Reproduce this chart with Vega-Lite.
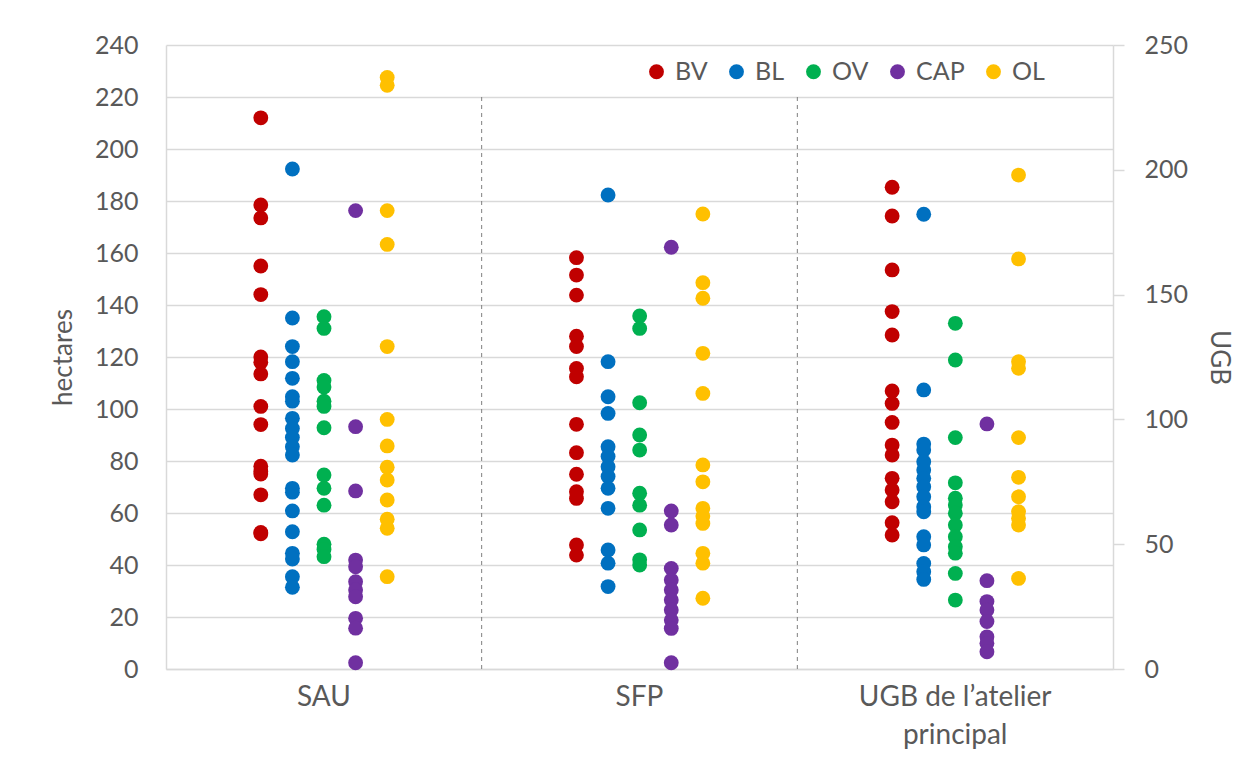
{
  "$schema": "https://vega.github.io/schema/vega-lite/v6.json",
  "autosize": {"type": "none"},
  "padding": {"left": 166, "top": 45, "right": 147, "bottom": 89},
  "width": 947,
  "height": 624,
  "background": "#ffffff",
  "config": {
    "view": {"stroke": null},
    "font": "Lato",
    "axis": {"labelFont": "Lato", "titleFont": "Lato", "labelColor": "#595959", "titleColor": "#595959", "titleFontWeight": "normal"},
    "legend": {"labelFont": "Lato", "labelColor": "#595959"}
  },
  "data": {
    "values": [
      {"g": "SAU", "s": "BV", "u": "ha", "v": 212},
      {"g": "SAU", "s": "BV", "u": "ha", "v": 178.5},
      {"g": "SAU", "s": "BV", "u": "ha", "v": 173.5},
      {"g": "SAU", "s": "BV", "u": "ha", "v": 155},
      {"g": "SAU", "s": "BV", "u": "ha", "v": 144},
      {"g": "SAU", "s": "BV", "u": "ha", "v": 120},
      {"g": "SAU", "s": "BV", "u": "ha", "v": 118},
      {"g": "SAU", "s": "BV", "u": "ha", "v": 113.5},
      {"g": "SAU", "s": "BV", "u": "ha", "v": 101},
      {"g": "SAU", "s": "BV", "u": "ha", "v": 94},
      {"g": "SAU", "s": "BV", "u": "ha", "v": 78},
      {"g": "SAU", "s": "BV", "u": "ha", "v": 76},
      {"g": "SAU", "s": "BV", "u": "ha", "v": 75},
      {"g": "SAU", "s": "BV", "u": "ha", "v": 67},
      {"g": "SAU", "s": "BV", "u": "ha", "v": 52.5},
      {"g": "SAU", "s": "BV", "u": "ha", "v": 52},
      {"g": "SAU", "s": "BL", "u": "ha", "v": 192.3},
      {"g": "SAU", "s": "BL", "u": "ha", "v": 135},
      {"g": "SAU", "s": "BL", "u": "ha", "v": 124},
      {"g": "SAU", "s": "BL", "u": "ha", "v": 118.2},
      {"g": "SAU", "s": "BL", "u": "ha", "v": 111.8},
      {"g": "SAU", "s": "BL", "u": "ha", "v": 104.7},
      {"g": "SAU", "s": "BL", "u": "ha", "v": 103},
      {"g": "SAU", "s": "BL", "u": "ha", "v": 96.4},
      {"g": "SAU", "s": "BL", "u": "ha", "v": 92.5},
      {"g": "SAU", "s": "BL", "u": "ha", "v": 89},
      {"g": "SAU", "s": "BL", "u": "ha", "v": 85.5},
      {"g": "SAU", "s": "BL", "u": "ha", "v": 82.3},
      {"g": "SAU", "s": "BL", "u": "ha", "v": 69.5},
      {"g": "SAU", "s": "BL", "u": "ha", "v": 68},
      {"g": "SAU", "s": "BL", "u": "ha", "v": 60.8},
      {"g": "SAU", "s": "BL", "u": "ha", "v": 52.8},
      {"g": "SAU", "s": "BL", "u": "ha", "v": 44.5},
      {"g": "SAU", "s": "BL", "u": "ha", "v": 42.3},
      {"g": "SAU", "s": "BL", "u": "ha", "v": 35.5},
      {"g": "SAU", "s": "BL", "u": "ha", "v": 31.4},
      {"g": "SAU", "s": "OV", "u": "ha", "v": 135.5},
      {"g": "SAU", "s": "OV", "u": "ha", "v": 131},
      {"g": "SAU", "s": "OV", "u": "ha", "v": 111},
      {"g": "SAU", "s": "OV", "u": "ha", "v": 108.5},
      {"g": "SAU", "s": "OV", "u": "ha", "v": 103},
      {"g": "SAU", "s": "OV", "u": "ha", "v": 101},
      {"g": "SAU", "s": "OV", "u": "ha", "v": 92.8},
      {"g": "SAU", "s": "OV", "u": "ha", "v": 74.6},
      {"g": "SAU", "s": "OV", "u": "ha", "v": 69.5},
      {"g": "SAU", "s": "OV", "u": "ha", "v": 63},
      {"g": "SAU", "s": "OV", "u": "ha", "v": 48},
      {"g": "SAU", "s": "OV", "u": "ha", "v": 46},
      {"g": "SAU", "s": "OV", "u": "ha", "v": 43.2},
      {"g": "SAU", "s": "CAP", "u": "ha", "v": 176.3},
      {"g": "SAU", "s": "CAP", "u": "ha", "v": 93.2},
      {"g": "SAU", "s": "CAP", "u": "ha", "v": 68.5},
      {"g": "SAU", "s": "CAP", "u": "ha", "v": 41.9},
      {"g": "SAU", "s": "CAP", "u": "ha", "v": 39.3},
      {"g": "SAU", "s": "CAP", "u": "ha", "v": 33.6},
      {"g": "SAU", "s": "CAP", "u": "ha", "v": 30.4},
      {"g": "SAU", "s": "CAP", "u": "ha", "v": 27.8},
      {"g": "SAU", "s": "CAP", "u": "ha", "v": 19.5},
      {"g": "SAU", "s": "CAP", "u": "ha", "v": 15.7},
      {"g": "SAU", "s": "CAP", "u": "ha", "v": 2.4},
      {"g": "SAU", "s": "OL", "u": "ha", "v": 227.5},
      {"g": "SAU", "s": "OL", "u": "ha", "v": 224.5},
      {"g": "SAU", "s": "OL", "u": "ha", "v": 176.3},
      {"g": "SAU", "s": "OL", "u": "ha", "v": 163.3},
      {"g": "SAU", "s": "OL", "u": "ha", "v": 124},
      {"g": "SAU", "s": "OL", "u": "ha", "v": 96},
      {"g": "SAU", "s": "OL", "u": "ha", "v": 85.8},
      {"g": "SAU", "s": "OL", "u": "ha", "v": 77.6},
      {"g": "SAU", "s": "OL", "u": "ha", "v": 72.7},
      {"g": "SAU", "s": "OL", "u": "ha", "v": 65},
      {"g": "SAU", "s": "OL", "u": "ha", "v": 57.6},
      {"g": "SAU", "s": "OL", "u": "ha", "v": 54.1},
      {"g": "SAU", "s": "OL", "u": "ha", "v": 35.5},
      {"g": "SFP", "s": "BV", "u": "ha", "v": 158.2},
      {"g": "SFP", "s": "BV", "u": "ha", "v": 151.5},
      {"g": "SFP", "s": "BV", "u": "ha", "v": 143.8},
      {"g": "SFP", "s": "BV", "u": "ha", "v": 128},
      {"g": "SFP", "s": "BV", "u": "ha", "v": 124},
      {"g": "SFP", "s": "BV", "u": "ha", "v": 115.6},
      {"g": "SFP", "s": "BV", "u": "ha", "v": 112.4},
      {"g": "SFP", "s": "BV", "u": "ha", "v": 94.1},
      {"g": "SFP", "s": "BV", "u": "ha", "v": 83.2},
      {"g": "SFP", "s": "BV", "u": "ha", "v": 74.9},
      {"g": "SFP", "s": "BV", "u": "ha", "v": 68.2},
      {"g": "SFP", "s": "BV", "u": "ha", "v": 65.6},
      {"g": "SFP", "s": "BV", "u": "ha", "v": 47.7},
      {"g": "SFP", "s": "BV", "u": "ha", "v": 43.8},
      {"g": "SFP", "s": "BL", "u": "ha", "v": 182.3},
      {"g": "SFP", "s": "BL", "u": "ha", "v": 118.2},
      {"g": "SFP", "s": "BL", "u": "ha", "v": 104.7},
      {"g": "SFP", "s": "BL", "u": "ha", "v": 98.3},
      {"g": "SFP", "s": "BL", "u": "ha", "v": 85.5},
      {"g": "SFP", "s": "BL", "u": "ha", "v": 81.7},
      {"g": "SFP", "s": "BL", "u": "ha", "v": 77.8},
      {"g": "SFP", "s": "BL", "u": "ha", "v": 74},
      {"g": "SFP", "s": "BL", "u": "ha", "v": 69.5},
      {"g": "SFP", "s": "BL", "u": "ha", "v": 61.8},
      {"g": "SFP", "s": "BL", "u": "ha", "v": 45.8},
      {"g": "SFP", "s": "BL", "u": "ha", "v": 40.7},
      {"g": "SFP", "s": "BL", "u": "ha", "v": 31.7},
      {"g": "SFP", "s": "OV", "u": "ha", "v": 135.8},
      {"g": "SFP", "s": "OV", "u": "ha", "v": 131},
      {"g": "SFP", "s": "OV", "u": "ha", "v": 102.4},
      {"g": "SFP", "s": "OV", "u": "ha", "v": 90},
      {"g": "SFP", "s": "OV", "u": "ha", "v": 84.2},
      {"g": "SFP", "s": "OV", "u": "ha", "v": 67.6},
      {"g": "SFP", "s": "OV", "u": "ha", "v": 63},
      {"g": "SFP", "s": "OV", "u": "ha", "v": 53.5},
      {"g": "SFP", "s": "OV", "u": "ha", "v": 42},
      {"g": "SFP", "s": "OV", "u": "ha", "v": 40},
      {"g": "SFP", "s": "CAP", "u": "ha", "v": 162.2},
      {"g": "SFP", "s": "CAP", "u": "ha", "v": 60.8},
      {"g": "SFP", "s": "CAP", "u": "ha", "v": 55.4},
      {"g": "SFP", "s": "CAP", "u": "ha", "v": 38.7},
      {"g": "SFP", "s": "CAP", "u": "ha", "v": 34.2},
      {"g": "SFP", "s": "CAP", "u": "ha", "v": 30.4},
      {"g": "SFP", "s": "CAP", "u": "ha", "v": 26.5},
      {"g": "SFP", "s": "CAP", "u": "ha", "v": 22.7},
      {"g": "SFP", "s": "CAP", "u": "ha", "v": 18.8},
      {"g": "SFP", "s": "CAP", "u": "ha", "v": 15.6},
      {"g": "SFP", "s": "CAP", "u": "ha", "v": 2.4},
      {"g": "SFP", "s": "OL", "u": "ha", "v": 175},
      {"g": "SFP", "s": "OL", "u": "ha", "v": 148.6},
      {"g": "SFP", "s": "OL", "u": "ha", "v": 142.6},
      {"g": "SFP", "s": "OL", "u": "ha", "v": 121.4},
      {"g": "SFP", "s": "OL", "u": "ha", "v": 106},
      {"g": "SFP", "s": "OL", "u": "ha", "v": 78.5},
      {"g": "SFP", "s": "OL", "u": "ha", "v": 72},
      {"g": "SFP", "s": "OL", "u": "ha", "v": 61.8},
      {"g": "SFP", "s": "OL", "u": "ha", "v": 58.8},
      {"g": "SFP", "s": "OL", "u": "ha", "v": 56},
      {"g": "SFP", "s": "OL", "u": "ha", "v": 44.5},
      {"g": "SFP", "s": "OL", "u": "ha", "v": 40.7},
      {"g": "SFP", "s": "OL", "u": "ha", "v": 27.2},
      {"g": "UGB de l’atelier principal", "s": "BV", "u": "UGB", "v": 193},
      {"g": "UGB de l’atelier principal", "s": "BV", "u": "UGB", "v": 181.5},
      {"g": "UGB de l’atelier principal", "s": "BV", "u": "UGB", "v": 159.9},
      {"g": "UGB de l’atelier principal", "s": "BV", "u": "UGB", "v": 143.2},
      {"g": "UGB de l’atelier principal", "s": "BV", "u": "UGB", "v": 133.8},
      {"g": "UGB de l’atelier principal", "s": "BV", "u": "UGB", "v": 111.4},
      {"g": "UGB de l’atelier principal", "s": "BV", "u": "UGB", "v": 106.4},
      {"g": "UGB de l’atelier principal", "s": "BV", "u": "UGB", "v": 98.8},
      {"g": "UGB de l’atelier principal", "s": "BV", "u": "UGB", "v": 89.7},
      {"g": "UGB de l’atelier principal", "s": "BV", "u": "UGB", "v": 85.7},
      {"g": "UGB de l’atelier principal", "s": "BV", "u": "UGB", "v": 76.4},
      {"g": "UGB de l’atelier principal", "s": "BV", "u": "UGB", "v": 71.7},
      {"g": "UGB de l’atelier principal", "s": "BV", "u": "UGB", "v": 67},
      {"g": "UGB de l’atelier principal", "s": "BV", "u": "UGB", "v": 58.6},
      {"g": "UGB de l’atelier principal", "s": "BV", "u": "UGB", "v": 53.7},
      {"g": "UGB de l’atelier principal", "s": "BL", "u": "UGB", "v": 182.2},
      {"g": "UGB de l’atelier principal", "s": "BL", "u": "UGB", "v": 111.8},
      {"g": "UGB de l’atelier principal", "s": "BL", "u": "UGB", "v": 90.1},
      {"g": "UGB de l’atelier principal", "s": "BL", "u": "UGB", "v": 87.7},
      {"g": "UGB de l’atelier principal", "s": "BL", "u": "UGB", "v": 83},
      {"g": "UGB de l’atelier principal", "s": "BL", "u": "UGB", "v": 79.7},
      {"g": "UGB de l’atelier principal", "s": "BL", "u": "UGB", "v": 76.4},
      {"g": "UGB de l’atelier principal", "s": "BL", "u": "UGB", "v": 73},
      {"g": "UGB de l’atelier principal", "s": "BL", "u": "UGB", "v": 69},
      {"g": "UGB de l’atelier principal", "s": "BL", "u": "UGB", "v": 65},
      {"g": "UGB de l’atelier principal", "s": "BL", "u": "UGB", "v": 63},
      {"g": "UGB de l’atelier principal", "s": "BL", "u": "UGB", "v": 53},
      {"g": "UGB de l’atelier principal", "s": "BL", "u": "UGB", "v": 49.7},
      {"g": "UGB de l’atelier principal", "s": "BL", "u": "UGB", "v": 42.3},
      {"g": "UGB de l’atelier principal", "s": "BL", "u": "UGB", "v": 39},
      {"g": "UGB de l’atelier principal", "s": "BL", "u": "UGB", "v": 35.9},
      {"g": "UGB de l’atelier principal", "s": "OV", "u": "UGB", "v": 138.5},
      {"g": "UGB de l’atelier principal", "s": "OV", "u": "UGB", "v": 123.8},
      {"g": "UGB de l’atelier principal", "s": "OV", "u": "UGB", "v": 92.7},
      {"g": "UGB de l’atelier principal", "s": "OV", "u": "UGB", "v": 74.6},
      {"g": "UGB de l’atelier principal", "s": "OV", "u": "UGB", "v": 68.4},
      {"g": "UGB de l’atelier principal", "s": "OV", "u": "UGB", "v": 65.7},
      {"g": "UGB de l’atelier principal", "s": "OV", "u": "UGB", "v": 62.4},
      {"g": "UGB de l’atelier principal", "s": "OV", "u": "UGB", "v": 57.7},
      {"g": "UGB de l’atelier principal", "s": "OV", "u": "UGB", "v": 53},
      {"g": "UGB de l’atelier principal", "s": "OV", "u": "UGB", "v": 49},
      {"g": "UGB de l’atelier principal", "s": "OV", "u": "UGB", "v": 46.4},
      {"g": "UGB de l’atelier principal", "s": "OV", "u": "UGB", "v": 38.3},
      {"g": "UGB de l’atelier principal", "s": "OV", "u": "UGB", "v": 27.6},
      {"g": "UGB de l’atelier principal", "s": "CAP", "u": "UGB", "v": 98.2},
      {"g": "UGB de l’atelier principal", "s": "CAP", "u": "UGB", "v": 35.4},
      {"g": "UGB de l’atelier principal", "s": "CAP", "u": "UGB", "v": 27},
      {"g": "UGB de l’atelier principal", "s": "CAP", "u": "UGB", "v": 23.6},
      {"g": "UGB de l’atelier principal", "s": "CAP", "u": "UGB", "v": 19},
      {"g": "UGB de l’atelier principal", "s": "CAP", "u": "UGB", "v": 12.9},
      {"g": "UGB de l’atelier principal", "s": "CAP", "u": "UGB", "v": 10.3},
      {"g": "UGB de l’atelier principal", "s": "CAP", "u": "UGB", "v": 6.9},
      {"g": "UGB de l’atelier principal", "s": "OL", "u": "UGB", "v": 197.9},
      {"g": "UGB de l’atelier principal", "s": "OL", "u": "UGB", "v": 164.3},
      {"g": "UGB de l’atelier principal", "s": "OL", "u": "UGB", "v": 123.1},
      {"g": "UGB de l’atelier principal", "s": "OL", "u": "UGB", "v": 120.5},
      {"g": "UGB de l’atelier principal", "s": "OL", "u": "UGB", "v": 92.7},
      {"g": "UGB de l’atelier principal", "s": "OL", "u": "UGB", "v": 76.8},
      {"g": "UGB de l’atelier principal", "s": "OL", "u": "UGB", "v": 69},
      {"g": "UGB de l’atelier principal", "s": "OL", "u": "UGB", "v": 63},
      {"g": "UGB de l’atelier principal", "s": "OL", "u": "UGB", "v": 60.4},
      {"g": "UGB de l’atelier principal", "s": "OL", "u": "UGB", "v": 57.7},
      {"g": "UGB de l’atelier principal", "s": "OL", "u": "UGB", "v": 36.3}
    ]
  },
  "layer": [
    {
      "transform": [{"filter": "datum.u == 'ha'"}],
      "mark": {"type": "circle", "size": 220, "opacity": 1},
      "encoding": {
        "x": {
          "field": "g", "type": "nominal",
          "scale": {"domain": ["SAU", "SFP", "UGB de l’atelier principal"], "paddingInner": 0, "paddingOuter": 0},
          "axis": {
            "title": null, "labelAngle": 0, "ticks": false, "grid": false,
            "domain": true, "domainColor": "#d9d9d9", "domainWidth": 1.5,
            "labelFontSize": 28, "labelPadding": 14, "labelLineHeight": 38, "labelLimit": 500,
            "labelExpr": "datum.value == 'UGB de l’atelier principal' ? ['UGB de l’atelier', 'principal'] : datum.value"
          }
        },
        "xOffset": {"field": "s", "type": "nominal", "scale": {"type": "point", "padding": 0, "range": [94.8, 221.2], "domain": ["BV", "BL", "OV", "CAP", "OL"]}},
        "y": {
          "field": "v", "type": "quantitative",
          "scale": {"domain": [0, 240], "nice": false, "zero": true},
          "axis": {
            "orient": "left", "title": "hectares", "values": [0, 20, 40, 60, 80, 100, 120, 140, 160, 180, 200, 220, 240],
            "grid": true, "gridColor": "#d9d9d9", "gridWidth": 1.5,
            "domain": true, "domainColor": "#d9d9d9", "domainWidth": 1.5,
            "ticks": false, "labelPadding": 28, "labelFontSize": 25,
            "titleFontSize": 26, "titlePadding": 18
          }
        },
        "color": {
          "field": "s", "type": "nominal",
          "scale": {"domain": ["BV", "BL", "OV", "CAP", "OL"], "range": ["#C00000", "#0070C0", "#00B050", "#7030A0", "#FFC000"]},
          "legend": {
            "title": null, "orient": "none", "legendX": 478, "legendY": 14, "direction": "horizontal",
            "symbolType": "circle", "symbolSize": 220, "symbolStrokeWidth": 0, "labelFontSize": 25,
            "labelOffset": 6, "columnPadding": 16
          }
        }
      }
    },
    {
      "data": {"values": [{"g": "SFP"}, {"g": "UGB de l’atelier principal"}]},
      "mark": {"type": "rule", "color": "#7f7f7f", "strokeDash": [4, 4], "strokeWidth": 1},
      "encoding": {
        "x": {"field": "g", "type": "nominal", "bandPosition": 0},
        "y": {"datum": 0, "type": "quantitative", "scale": {"domain": [0, 240], "nice": false}, "axis": null},
        "y2": {"datum": 220}
      }
    },
    {
      "transform": [{"filter": "datum.u == 'UGB'"}],
      "mark": {"type": "circle", "size": 220, "opacity": 1},
      "encoding": {
        "x": {"field": "g", "type": "nominal"},
        "xOffset": {"field": "s", "type": "nominal", "scale": {"type": "point", "padding": 0, "range": [94.8, 221.2], "domain": ["BV", "BL", "OV", "CAP", "OL"]}},
        "y": {
          "field": "v", "type": "quantitative",
          "scale": {"domain": [0, 250], "nice": false, "zero": true},
          "axis": {
            "orient": "right", "title": "UGB", "values": [0, 50, 100, 150, 200, 250],
            "grid": false, "domain": true, "domainColor": "#d9d9d9", "domainWidth": 1.5,
            "ticks": true, "tickColor": "#d9d9d9", "tickSize": 11, "tickWidth": 1.5,
            "labelPadding": 20, "labelFontSize": 25, "titleFontSize": 26, "titlePadding": 18
          }
        },
        "color": {
          "field": "s", "type": "nominal",
          "scale": {"domain": ["BV", "BL", "OV", "CAP", "OL"], "range": ["#C00000", "#0070C0", "#00B050", "#7030A0", "#FFC000"]},
          "legend": {
            "title": null, "orient": "none", "legendX": 478, "legendY": 14, "direction": "horizontal",
            "symbolType": "circle", "symbolSize": 220, "symbolStrokeWidth": 0, "labelFontSize": 25,
            "labelOffset": 6, "columnPadding": 16
          }
        }
      }
    }
  ],
  "resolve": {"scale": {"y": "independent"}}
}
